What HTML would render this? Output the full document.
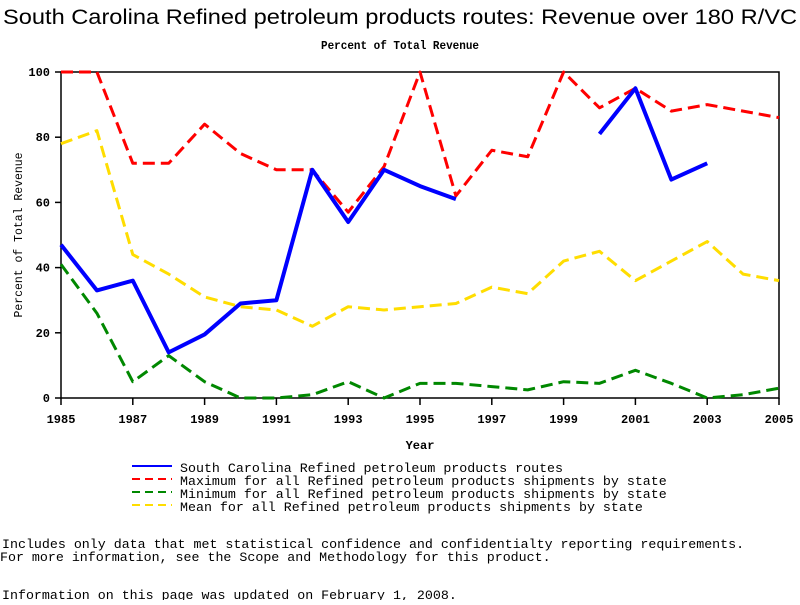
<!DOCTYPE html>
<html><head><meta charset="utf-8"><style>
body{margin:0;background:#fff;width:800px;height:600px;overflow:hidden}
svg text{font-family:"Liberation Mono",monospace;fill:#000}
</style></head><body>
<svg id="chart" width="800" height="600">
<text x="400" y="24" text-anchor="middle" style="font-family:'Liberation Sans',sans-serif;font-size:21px" textLength="794" lengthAdjust="spacingAndGlyphs">South Carolina Refined petroleum products routes: Revenue over 180 R/VC</text>
<text x="400" y="49" text-anchor="middle" font-size="12" font-weight="bold" textLength="158" lengthAdjust="spacingAndGlyphs">Percent of Total Revenue</text>
<rect x="61" y="72" width="718" height="326" fill="none" stroke="#000" stroke-width="1.5"/>
<g id="axes"></g>
<g id="series"></g>
<text x="420" y="449" text-anchor="middle" font-size="12" font-weight="bold">Year</text>
<text transform="translate(22,235) rotate(-90)" text-anchor="middle" font-size="12" textLength="165" lengthAdjust="spacingAndGlyphs">Percent of Total Revenue</text>
<g font-size="13.3">
<g><line x1="132" y1="466" x2="172" y2="466" stroke="#00f" stroke-width="2"/><text x="180" y="472">South Carolina Refined petroleum products routes</text></g>
<g><line x1="132" y1="479" x2="172" y2="479" stroke="#f00" stroke-width="2" stroke-dasharray="8,5"/><text x="180" y="485">Maximum for all Refined petroleum products shipments by state</text></g>
<g><line x1="132" y1="492" x2="172" y2="492" stroke="#080" stroke-width="2" stroke-dasharray="8,5"/><text x="180" y="498">Minimum for all Refined petroleum products shipments by state</text></g>
<g><line x1="132" y1="505" x2="172" y2="505" stroke="#fd0" stroke-width="2" stroke-dasharray="8,5"/><text x="180" y="511">Mean for all Refined petroleum products shipments by state</text></g>
</g>
<g font-size="13.3">
<text x="2" y="548">Includes only data that met statistical confidence and confidentialty reporting requirements.</text>
<text x="0" y="561">For more information, see the Scope and Methodology for this product.</text>
<text x="2" y="599">Information on this page was updated on February 1, 2008.</text>
</g>
</svg>
<script>
const years=[1985,1986,1987,1988,1989,1990,1991,1992,1993,1994,1995,1996,1997,1998,1999,2000,2001,2002,2003,2004,2005];
const scValues=[47,33,36,14,19.5,29,30,70,54,70,65,61,null,null,null,81,95,67,72,null,null];
const maxValues=[100,100,72,72,84,75,70,70,57,71,100,62,76,74,100,89,95,88,90,88,86];
const minValues=[41,26,5,13,5,0,0,1,5,0,4.5,4.5,3.5,2.5,5,4.5,8.5,4.5,0,1,3];
const meanValues=[78,82,44,38,31,28,27,22,28,27,28,29,34,32,42,45,36,42,48,38,36];
const xTicks=[1985,1987,1989,1991,1993,1995,1997,1999,2001,2003,2005];
const yTicks=[0,20,40,60,80,100];
const NS="http://www.w3.org/2000/svg";
const X=y=>61+(y-1985)*(718/20);
const Y=v=>398-v*3.26;
const axes=document.getElementById('axes'),series=document.getElementById('series');
function mk(t,a,p){const e=document.createElementNS(NS,t);for(const k in a)e.setAttribute(k,a[k]);p.appendChild(e);return e;}
xTicks.forEach(t=>{
 const l=mk('line',{x1:X(t),x2:X(t),y1:398,y2:405,stroke:'#000','stroke-width':1.5},axes);
 
 
 const tx=mk('text',{x:X(t),y:423,'text-anchor':'middle','font-size':12,'font-weight':'bold'},axes);tx.textContent=t;
 
 
});
yTicks.forEach(t=>{
 const l=mk('line',{x1:55,x2:61,y1:Y(t),y2:Y(t),stroke:'#000','stroke-width':1.5},axes);
 
 
 const tx=mk('text',{x:50,y:Y(t)+4,'text-anchor':'end','font-size':12,'font-weight':'bold'},axes);tx.textContent=t;
 
 
});
function draw(vals,color,w,dash,name){
 let segs=[],cur=[];
 vals.forEach((v,i)=>{if(v==null){if(cur.length)segs.push(cur);cur=[];}else cur.push(X(years[i])+','+Y(v));});
 if(cur.length)segs.push(cur);
 segs.forEach(s=>{
  const p=mk('polyline',{points:s.join(' '),fill:'none',stroke:color,'stroke-width':w,'stroke-linejoin':'round'},series);
  if(dash)p.setAttribute('stroke-dasharray',dash);
  
  
 });
}
draw(meanValues,'#fd0',3,'12,6','mean-line');
draw(minValues,'#080',3,'12,6','min-line');
draw(maxValues,'#f00',3,'12,6','max-line');
draw(scValues,'#00f',4,null,'sc-line');
</script>
</body></html>
